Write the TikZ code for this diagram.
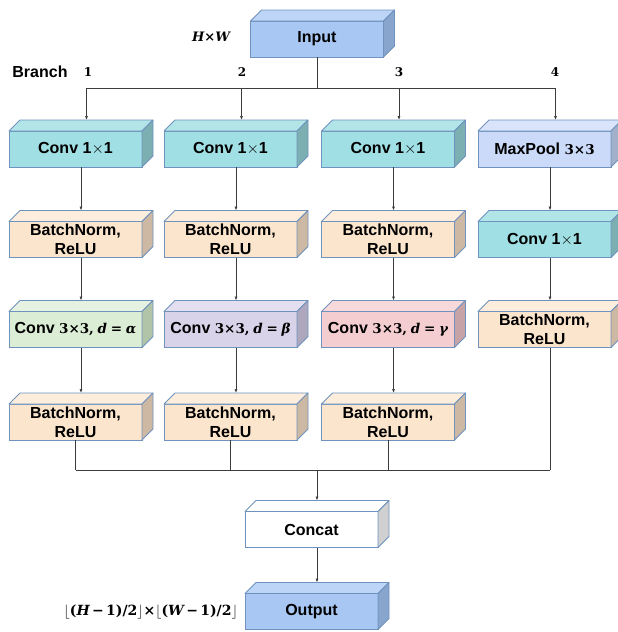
\RequirePackage{fix-cm}
\documentclass[tikz,border=0pt]{standalone}
\usepackage{fontspec}
\setmainfont{Liberation Sans}
\newfontfamily\mserif{DejaVu Serif}
\usetikzlibrary{arrows.meta,calc}

\definecolor{bord}{HTML}{6F93BE}
\definecolor{wire}{HTML}{3C3C3C}
% input / output
\definecolor{ioF}{HTML}{A8C8F3}\definecolor{ioT}{HTML}{BDD6F7}\definecolor{ioS}{HTML}{87A5CD}
% 1x1 convolution
\definecolor{cvF}{HTML}{A0DFE3}\definecolor{cvT}{HTML}{B2E5E8}\definecolor{cvS}{HTML}{7CAFB2}
% max pooling
\definecolor{mpF}{HTML}{CADAF8}\definecolor{mpT}{HTML}{D9E4FA}\definecolor{mpS}{HTML}{A3B0C9}
% batch norm
\definecolor{bnF}{HTML}{FCE5CD}\definecolor{bnT}{HTML}{FDEDDC}\definecolor{bnS}{HTML}{CCB8A3}
% dilated convolutions
\definecolor{gaF}{HTML}{DCEDD5}\definecolor{gaT}{HTML}{E6F2E1}\definecolor{gaS}{HTML}{B1C4A8}
\definecolor{gbF}{HTML}{D9D3EA}\definecolor{gbT}{HTML}{E3DEF0}\definecolor{gbS}{HTML}{AEA8BE}
\definecolor{gcF}{HTML}{F4CDD0}\definecolor{gcT}{HTML}{F7D9DB}\definecolor{gcS}{HTML}{C6A3A6}
% concat
\definecolor{ccS}{HTML}{D0D0D0}

\newcommand\boxfont{\bfseries\fontsize{16}{19}\selectfont}
\newcommand\sz[1]{\fontsize{#1}{#1}\selectfont}
% bold upright and bold italic symbols for the formulas
\newcommand\mb[1]{{\mserif\bfseries #1}}
\newcommand\mi[1]{{\mserif\bfseries\itshape #1}}

\tikzset{
  blk/.style={draw=bord, line width=0.8pt, minimum width=133, minimum height=36,
    inner sep=0pt, outer sep=0pt, align=center, text=black, font=\boxfont},
  face/.style={draw=bord, line width=0.8pt, line join=round},
  ln/.style={draw=wire, line width=0.7pt},
  arr/.style={ln, -{Latex[length=4pt,width=3pt]}},
  tag/.style={inner sep=0pt, text=black},
}

% front face as a node, plus top and side faces; extra coordinates for wiring
\newcommand\blockbox[7]{%
  \node[blk, fill=#4] (#1) at (#2,#3) {#7};
  \filldraw[face, fill=#5] (#1.north west) -- ++(11,-11)
    -- ([shift={(11,-11)}]#1.north east) -- (#1.north east) -- cycle;
  \filldraw[face, fill=#6] (#1.north east) -- ++(11,-11)
    -- ([shift={(11,-11)}]#1.south east) -- (#1.south east) -- cycle;
  \coordinate (#1-in) at ([shift={(11,-11)}]#1.north);
  \coordinate (#1-top) at ([shift={(5.5,-11)}]#1.north);
  \coordinate (#1-bot) at ([shift={(5.5,0)}]#1.south);
}

\begin{document}
\begin{tikzpicture}[x=1pt,y=-1pt]
\useasboundingbox (0,0) rectangle (618,632);
\clip (0,0) rectangle (618,632);

% branch labels
\node[tag, font=\boxfont] (brl) at (40,72) {Branch};
\node[tag, font=\sz{12}] (n1) at (88,72) {\mb{1}};
\node[tag, font=\sz{12}] (n2) at (242,72) {\mb{2}};
\node[tag, font=\sz{12}] (n3) at (399,72) {\mb{3}};
\node[tag, font=\sz{12}] (n4) at (555,72) {\mb{4}};

% input
\blockbox{inp}{317}{39}{ioF}{ioT}{ioS}{Input}
\node[tag, font=\sz{13}] (hw) at (211,37) {\mi{H}\mb{×}\mi{W}};

% row 1
\blockbox{a1}{75.5}{149}{cvF}{cvT}{cvS}{Conv 1\(\times\)1}
\blockbox{a2}{230.5}{149}{cvF}{cvT}{cvS}{Conv 1\(\times\)1}
\blockbox{a3}{388}{149}{cvF}{cvT}{cvS}{Conv 1\(\times\)1}
\blockbox{a4}{544.5}{149}{mpF}{mpT}{mpS}{MaxPool {\sz{13.5}\mb{3×3}}}

% row 2
\blockbox{b1}{75.5}{239.5}{bnF}{bnT}{bnS}{BatchNorm,\\ReLU}
\blockbox{b2}{230.5}{239.5}{bnF}{bnT}{bnS}{BatchNorm,\\ReLU}
\blockbox{b3}{388}{239.5}{bnF}{bnT}{bnS}{BatchNorm,\\ReLU}
\blockbox{b4}{544.5}{239.5}{cvF}{cvT}{cvS}{Conv 1\(\times\)1}

% row 3
\blockbox{c1}{75.5}{329.5}{gaF}{gaT}{gaS}{Conv {\sz{13.5}\mb{3×3,} \mi{d} \mb{=} \mi{α}}}
\blockbox{c2}{230.5}{329.5}{gbF}{gbT}{gbS}{Conv {\sz{13.5}\mb{3×3,} \mi{d} \mb{=} \mi{β}}}
\blockbox{c3}{388}{329.5}{gcF}{gcT}{gcS}{Conv {\sz{13.5}\mb{3×3,} \mi{d} \mb{=} \mi{γ}}}
\blockbox{c4}{544.5}{329.5}{bnF}{bnT}{bnS}{BatchNorm,\\ReLU}

% row 4
\blockbox{d1}{75.5}{422}{bnF}{bnT}{bnS}{BatchNorm,\\ReLU}
\blockbox{d2}{230.5}{422}{bnF}{bnT}{bnS}{BatchNorm,\\ReLU}
\blockbox{d3}{388}{422}{bnF}{bnT}{bnS}{BatchNorm,\\ReLU}

% concat and output
\blockbox{cat}{311.5}{529.5}{white}{white}{ccS}{Concat}
\blockbox{out}{311.5}{611.5}{ioF}{ioT}{ioS}{Output}
\node[tag, anchor=east, font=\sz{14}] (osz) at (238,612)
  {\(\lfloor\)\mb{(}\mi{H}\,\mb{−}\,\mb{1)/2}\(\rfloor\)\mb{×}\(\lfloor\)\mb{(}\mi{W}\,\mb{−}\,\mb{1)/2}\(\rfloor\)};

% split into four branches
\coordinate (splitrow) at (0,88);
\coordinate (mergerow) at (0,470);
\draw[ln] (inp.south) -- (inp.south |- splitrow);
\draw[ln] (a1-in |- splitrow) -- (a4-in |- splitrow);
\foreach \b in {a1,a2,a3,a4}
  \draw[arr] (\b-in |- splitrow) -- (\b-in);

% within each branch
\draw[arr] (a1-bot) -- (b1-top);
\draw[arr] (b1-bot) -- (c1-top);
\draw[arr] (c1-bot) -- (d1-top);
\draw[arr] (a2-bot) -- (b2-top);
\draw[arr] (b2-bot) -- (c2-top);
\draw[arr] (c2-bot) -- (d2-top);
\draw[arr] (a3-bot) -- (b3-top);
\draw[arr] (b3-bot) -- (c3-top);
\draw[arr] (c3-bot) -- (d3-top);
\draw[arr] (a4-bot) -- (b4-top);
\draw[arr] (b4-bot) -- (c4-top);

% merge into concat
\draw[ln] (d1.south) -- (d1.south |- mergerow);
\draw[ln] (d2.south) -- (d2.south |- mergerow);
\draw[ln] (d3.south) -- (d3.south |- mergerow);
\draw[ln] (c4-bot) -- (c4-bot |- mergerow);
\draw[ln] (d1.south |- mergerow) -- (c4-bot |- mergerow);
\draw[arr] (cat-top |- mergerow) -- (cat-top);
\draw[arr] (cat-bot) -- (out-top);
\end{tikzpicture}
\end{document}
